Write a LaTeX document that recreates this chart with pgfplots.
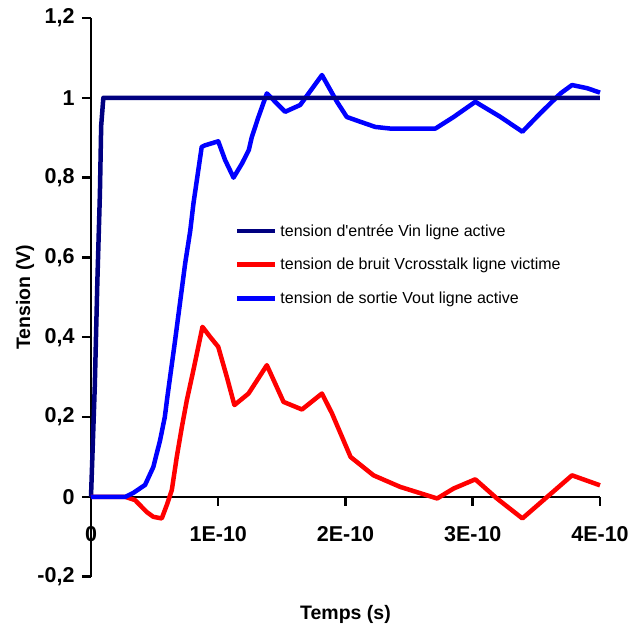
\documentclass[border=0pt]{standalone}
\usepackage{fontspec}
\setmainfont{Liberation Sans}
\usepackage{pgfplots}
\pgfplotsset{compat=1.18}

\definecolor{vin}{HTML}{000080}
\definecolor{vout}{HTML}{0000FF}
\definecolor{vcross}{HTML}{FF0000}

\begin{document}
\begin{tikzpicture}
\useasboundingbox (0,0) rectangle (630pt,628pt);
\begin{axis}[
    at={(91pt,51.3pt)}, anchor=south west,
    scale only axis,
    width=509pt, height=558.7pt,
    xmin=0, xmax=4, ymin=-0.2, ymax=1.2,
    axis x line=middle, axis y line=left,
    axis line style={-, black, line width=2.5pt},
    hide obscured x ticks=false, hide obscured y ticks=false,
    clip=false,
    xtick={0,1,2,3,4},
    xticklabels={0,1E-10,2E-10,3E-10,4E-10},
    ytick={-0.2,0,0.2,0.4,0.6,0.8,1,1.2},
    yticklabels={{-0,2},{0},{0,2},{0,4},{0,6},{0,8},{1},{1,2}},
    tick align=outside,
    major tick length=9pt,
    tick style={black, line width=2.5pt},
    ticklabel style={font=\fontsize{21.5}{25}\selectfont\bfseries},
    xticklabel style={yshift=-17pt},
    yticklabel style={xshift=-4pt},
    xlabel={Temps (s)},
    ylabel={Tension (V)},
    label style={font=\fontsize{19.5}{23}\selectfont\bfseries},
    xlabel style={at={(axis description cs:0.5,0)}, anchor=center, yshift=-38pt},
    ylabel style={at={(axis description cs:0,0.5)}, anchor=center, yshift=66pt},
    legend cell align=left,
    legend style={at={(axis cs:1.13,0.582)}, anchor=west, draw=none, fill=none,
        font=\fontsize{16}{19}\selectfont, row sep=20.5pt, column sep=3pt,
        inner sep=0pt, nodes={inner sep=0pt}},
    legend image code/.code={\draw[#1, line width=4.5pt] (0pt,0pt) -- (38pt,0pt);},
    every axis plot/.append style={line width=4.5pt, line join=round},
]
% tension d'entree Vin
\addplot[vin] coordinates {
    (0,0) (0.03,0.28) (0.05,0.54) (0.07,0.76) (0.08,0.93) (0.097,1) (4,1)
};
\addlegendentry{tension d\textquotesingle entrée Vin ligne active}

% tension de bruit Vcrosstalk
\addplot[vcross] coordinates {
    (0,0) (0.27,0) (0.346,-0.008) (0.438,-0.038) (0.49,-0.05) (0.556,-0.054)
    (0.595,-0.021) (0.635,0.017) (0.674,0.1) (0.714,0.175) (0.753,0.242)
    (0.805,0.318) (0.876,0.426) (0.936,0.401) (1.0,0.376) (1.068,0.3)
    (1.127,0.23) (1.238,0.259) (1.382,0.33) (1.513,0.238) (1.658,0.219)
    (1.815,0.259) (1.894,0.209) (2.04,0.1) (2.22,0.054) (2.43,0.025)
    (2.72,-0.004) (2.85,0.021) (3.02,0.044) (3.19,-0.004) (3.39,-0.054)
    (3.585,0) (3.78,0.054) (4.0,0.029)
};
\addlegendentry{tension de bruit Vcrosstalk ligne victime}

% tension de sortie Vout
\addplot[vout] coordinates {
    (0,0) (0.27,0) (0.333,0.01) (0.425,0.03) (0.49,0.075) (0.543,0.142)
    (0.58,0.2) (0.6,0.25) (0.66,0.39) (0.74,0.585) (0.78,0.667) (0.805,0.735)
    (0.87,0.877) (0.897,0.881) (1.0,0.891) (1.054,0.844) (1.12,0.80)
    (1.186,0.835) (1.24,0.869) (1.264,0.902) (1.316,0.952) (1.382,1.011)
    (1.526,0.965) (1.644,0.982) (1.71,1.011) (1.815,1.057) (1.933,0.99)
    (2.01,0.952) (2.116,0.94) (2.234,0.927) (2.35,0.923) (2.707,0.923)
    (2.85,0.952) (3.02,0.99) (3.218,0.952) (3.39,0.915) (3.53,0.961)
    (3.69,1.011) (3.78,1.032) (3.9,1.024) (4.0,1.013)
};
\addlegendentry{tension de sortie Vout ligne active}

% Vin au premier plan
\addplot[vin, forget plot] coordinates {(0.097,1) (4,1)};
\end{axis}
\end{tikzpicture}
\end{document}
